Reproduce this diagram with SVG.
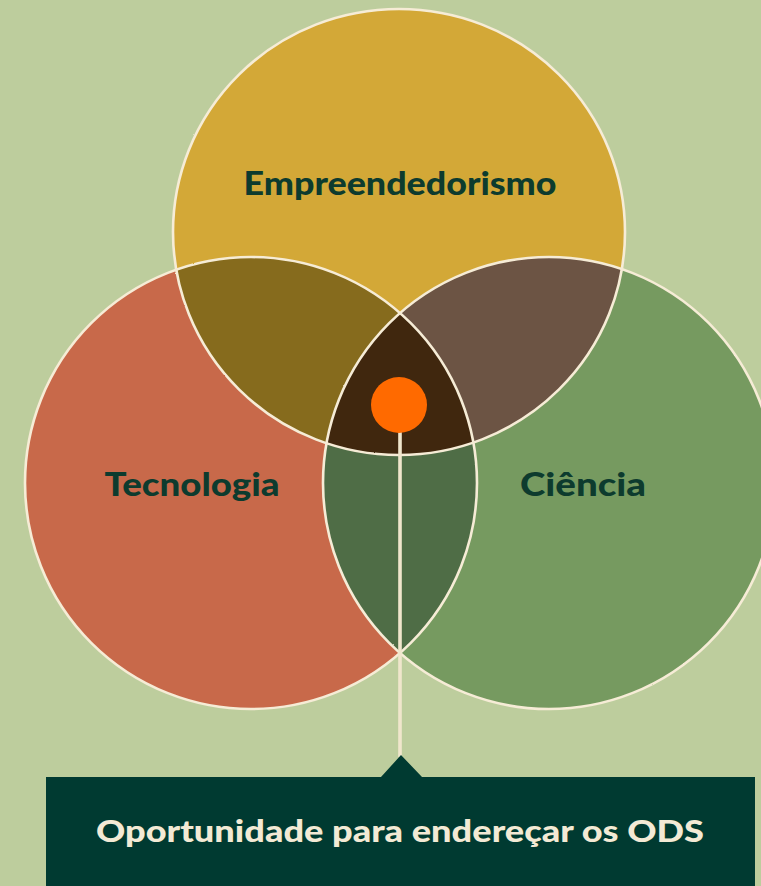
<svg xmlns="http://www.w3.org/2000/svg" width="761" height="886" viewBox="0 0 761 886">
  <style>
    .outline { fill: none; stroke: #f6ecd6; stroke-width: 2.6; }
    .label { font-family: "Lato", "Liberation Sans", sans-serif; font-weight: 900; fill: #0d3b2e; text-anchor: middle; }
    .boxtext { font-family: "Lato", "Liberation Sans", sans-serif; font-weight: 900; fill: #f3ead5; text-anchor: middle; }
  </style>
  <defs>
    <ellipse id="cTop" cx="399" cy="232" rx="226" ry="223"/>
    <circle id="cLeft" cx="251" cy="483" r="226"/>
    <circle id="cRight" cx="549" cy="483" r="226"/>
    <clipPath id="clipTop"><use href="#cTop"/></clipPath>
    <clipPath id="clipLeft"><use href="#cLeft"/></clipPath>
    <clipPath id="clipRight"><use href="#cRight"/></clipPath>
    <filter id="rough" filterUnits="userSpaceOnUse" x="0" y="0" width="761" height="886">
      <feTurbulence type="fractalNoise" baseFrequency="0.9" numOctaves="1" seed="3" result="n"/>
      <feDisplacementMap in="SourceGraphic" in2="n" scale="1.6" xChannelSelector="R" yChannelSelector="G"/>
    </filter>
  </defs>

  <rect width="761" height="886" fill="#bdcd9d"/>

  <!-- base circles -->
  <g id="empreendedorismo">
    <use href="#cTop" fill="#d3a837"/>
  </g>
  <g id="tecnologia">
    <use href="#cLeft" fill="#c8694a"/>
  </g>
  <g id="ciencia">
    <use href="#cRight" fill="#769a60"/>
  </g>

  <!-- overlaps -->
  <g id="overlaps">
    <g clip-path="url(#clipTop)"><use href="#cLeft" fill="#866b1d"/></g>
    <g clip-path="url(#clipTop)"><use href="#cRight" fill="#6c5444"/></g>
    <g clip-path="url(#clipLeft)"><use href="#cRight" fill="#4f6d46"/></g>
    <g clip-path="url(#clipTop)"><g clip-path="url(#clipLeft)"><use href="#cRight" fill="#40270e"/></g></g>
  </g>

  <!-- outlines -->
  <g id="outlines" filter="url(#rough)">
    <use href="#cTop" class="outline"/>
    <use href="#cLeft" class="outline"/>
    <use href="#cRight" class="outline"/>
  </g>

  <!-- labels -->
  <text class="label" x="400" y="195" font-size="32" textLength="313" lengthAdjust="spacingAndGlyphs">Empreendedorismo</text>
  <text class="label" x="192" y="496" font-size="32" textLength="175" lengthAdjust="spacingAndGlyphs">Tecnologia</text>
  <text class="label" x="583" y="496" font-size="32" textLength="126" lengthAdjust="spacingAndGlyphs">Ciência</text>

  <!-- connector -->
  <g id="connectors" filter="url(#rough)">
    <rect x="398.2" y="428" width="3.6" height="329" fill="#f0e6cc"/>
  </g>

  <!-- center dot -->
  <g id="oportunidade-dot">
    <circle cx="399" cy="405" r="28" fill="#ff6a00"/>
  </g>

  <!-- callout box -->
  <g id="ods-box">
    <path d="M46 777 H381 L401 755 L422 777 H755 V886 H46 Z" fill="#003a31"/>
    <text class="boxtext" x="400" y="842" font-size="30" textLength="608" lengthAdjust="spacingAndGlyphs">Oportunidade para endereçar os ODS</text>
  </g>
</svg>
